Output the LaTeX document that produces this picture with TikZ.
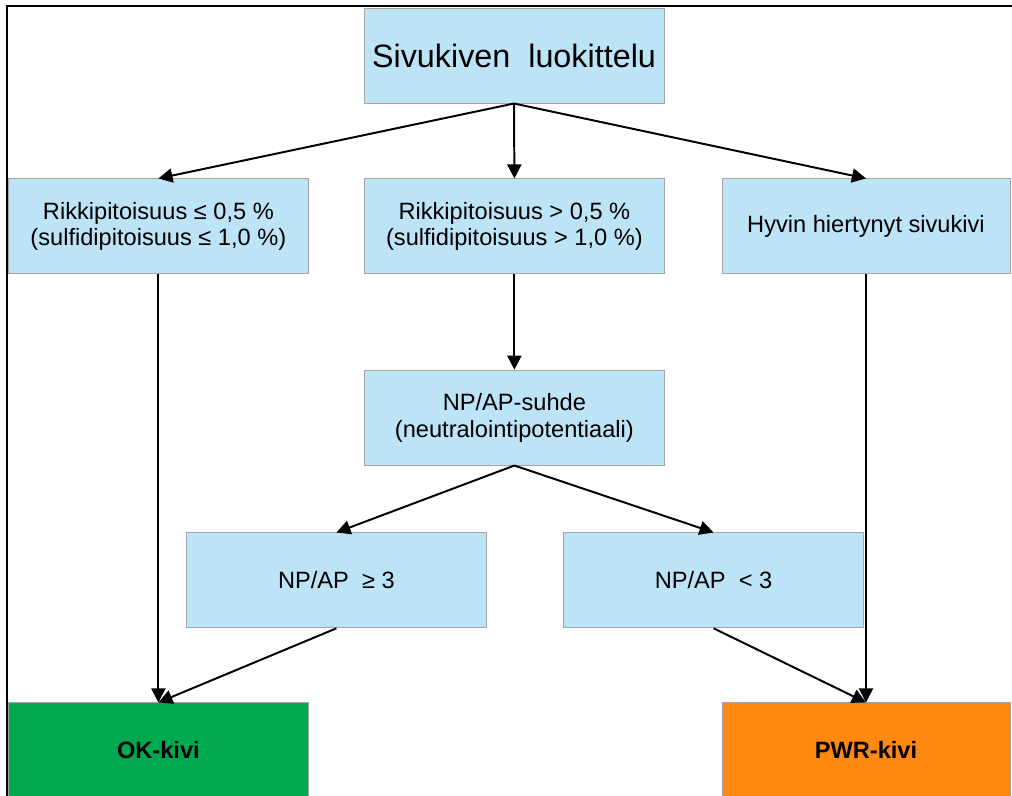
\documentclass[tikz,border=0pt]{standalone}
\usepackage{fontspec}
\setmainfont{Liberation Sans}
\usepackage{tikz}
\usetikzlibrary{
  arrows.meta,
  calc
}
\definecolor{boxblue}{RGB}{189,227,247}
\definecolor{boxedge}{RGB}{165,165,165}
\definecolor{okgreen}{RGB}{0,168,80}
\definecolor{pwrorange}{RGB}{255,136,17}

\begin{document}
\begin{tikzpicture}[
  box/.style={draw=boxedge,line width=0.6pt,fill=boxblue,minimum width=7.5cm,
    minimum height=2.375cm,align=center,inner sep=0pt,
    font=\fontsize{16.8}{19.2}\selectfont},
  flow/.style={-{Triangle[length=10pt,width=10pt]},line width=1.4pt}
]
  \useasboundingbox (0, 0) rectangle (25.3, -19.9);
  \draw[line width=1.4pt] (0.175, -19.95) -- (0.175, -0.15) -- (25.4, -0.15);

  \node[box,font=\fontsize{23}{27}\selectfont] at (12.85, -1.39) (Title)
  {Sivukiven\ \ luokittelu};

  \node[box] at (3.96, -5.66) (Low Sulfur)
  {Rikkipitoisuus ≤ 0,5 \%\\(sulfidipitoisuus ≤ 1,0 \%)};
  \node[box] at (12.86, -5.66) (High Sulfur)
  {Rikkipitoisuus > 0,5 \%\\(sulfidipitoisuus > 1,0 \%)};
  \node[box,minimum width=7.2cm] at (21.65, -5.66) (Sheared Rock)
  {Hyvin hiertynyt sivukivi};

  \node[box] at (12.86, -10.44) (NPAP Ratio)
  {NP/AP-suhde\\(neutralointipotentiaali)};

  \node[box] at (8.41, -14.51) (NPAP High) {NP/AP\ \ ≥ 3};
  \node[box] at (17.84, -14.51) (NPAP Low) {NP/AP\ \ < 3};

  \node[box,fill=okgreen,font=\fontsize{16.8}{19.2}\selectfont\bfseries]
  at (3.96, -18.76) (OK Rock) {OK-kivi};
  \node[box,minimum width=7.2cm,fill=pwrorange,font=\fontsize{16.8}{19.2}\selectfont\bfseries]
  at (21.65, -18.76) (PWR Rock) {PWR-kivi};

  \draw[flow] (Title.south) -- (Low Sulfur.north);
  \draw[flow] (Title.south) -- (High Sulfur.north);
  \draw[flow] (Title.south) -- (Sheared Rock.north);

  \draw[flow] (Low Sulfur.south) -- (OK Rock.north);
  \draw[flow] (High Sulfur.south) -- (NPAP Ratio.north);
  \draw[flow] (Sheared Rock.south) -- (PWR Rock.north);

  \draw[flow] (NPAP Ratio.south) -- (NPAP High.north);
  \draw[flow] (NPAP Ratio.south) -- (NPAP Low.north);

  \draw[flow] (NPAP High.south) -- (OK Rock.north);
  \draw[flow] (NPAP Low.south) -- (PWR Rock.north);
\end{tikzpicture}
\end{document}
